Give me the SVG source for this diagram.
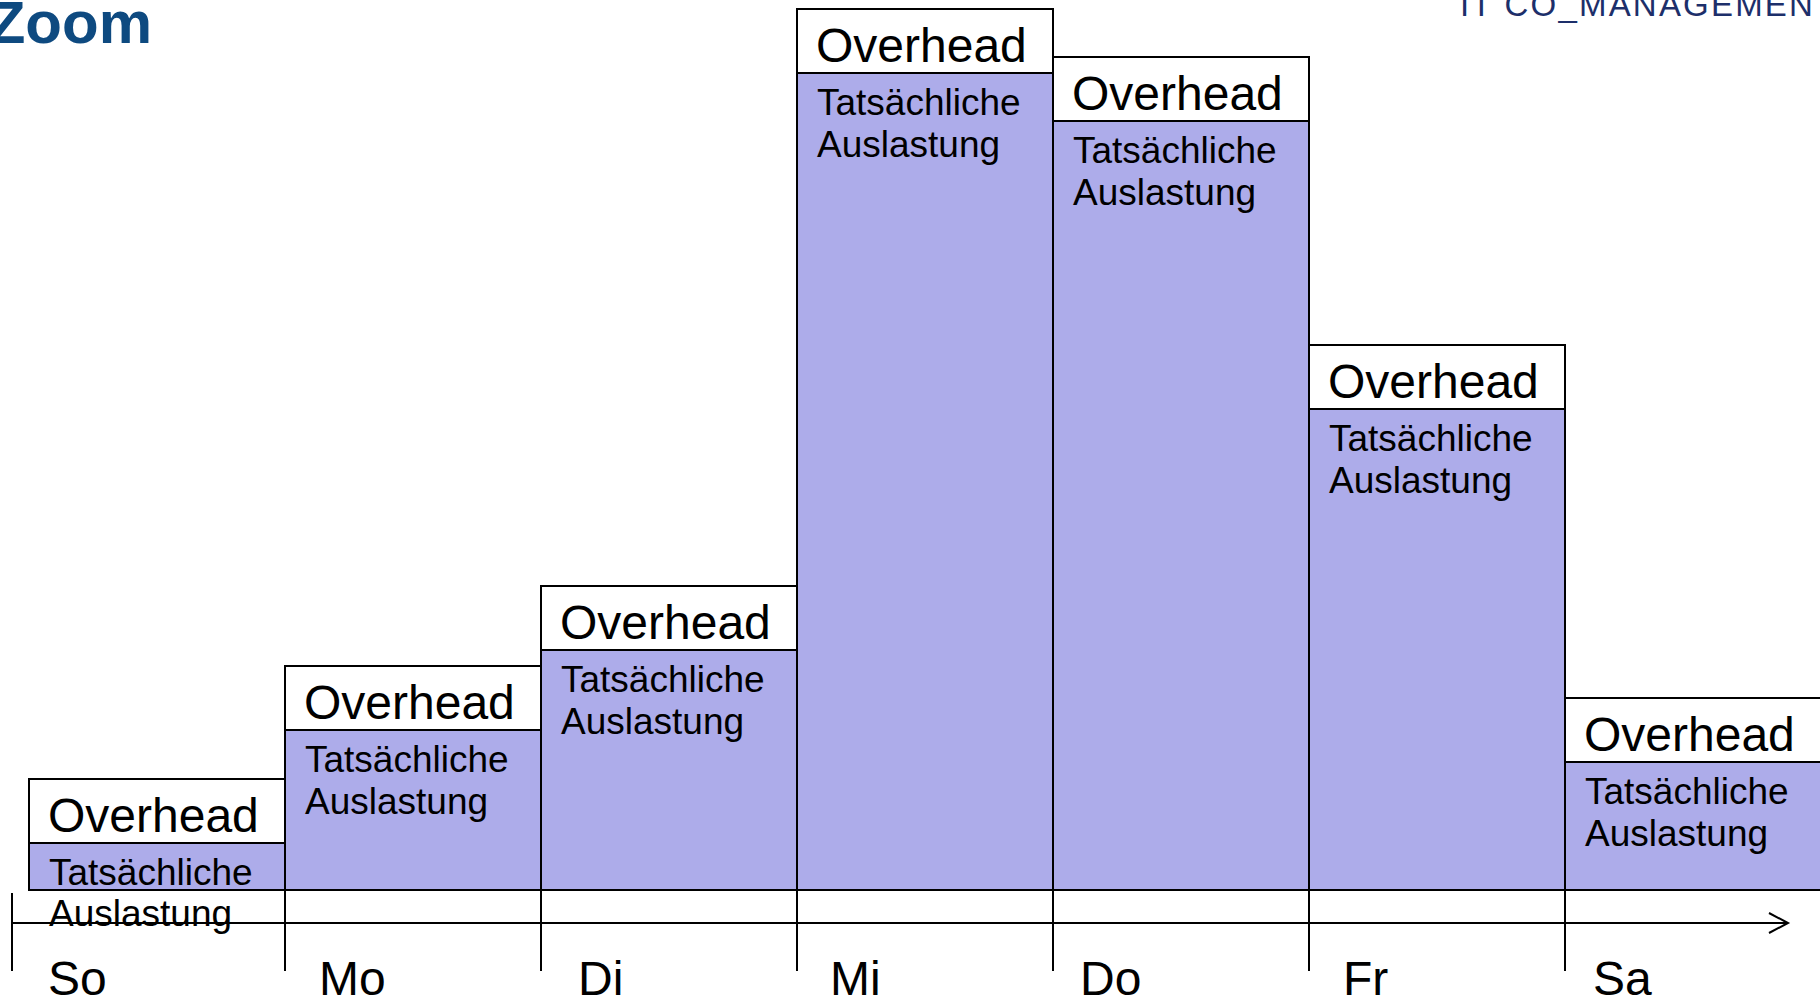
<svg xmlns="http://www.w3.org/2000/svg" width="1820" height="998" viewBox="0 0 1820 998">
<style>
.oh{fill:#ffffff;stroke:#000;stroke-width:2}
.ta{fill:#adacea;stroke:#000;stroke-width:2}
.t1{font-family:"Liberation Sans",Arial,sans-serif;font-size:48px;fill:#000}
.t2{font-family:"Liberation Sans",Arial,sans-serif;font-size:37px;fill:#000}
.day{font-family:"Liberation Sans",Arial,sans-serif;font-size:48px;fill:#000}
.ax{stroke:#000;stroke-width:2;fill:none}
</style>
<rect width="1820" height="998" fill="#fff"/>
<text x="152" y="43" text-anchor="end" font-family="'Liberation Sans',Arial,sans-serif" font-weight="bold" font-size="60" fill="#0e4a80">Zoom</text>
<text x="1460" y="16" font-family="'Liberation Sans',Arial,sans-serif" font-size="33" letter-spacing="2.2" fill="#1d2f6a">IT CO_MANAGEMEN</text>

<g id="connectors">
<line class="ax" x1="12" y1="923" x2="1788" y2="923"/>
<polyline class="ax" points="1769,913 1788,923 1769,933"/>
<line class="ax" x1="12" y1="893" x2="12" y2="971"/>
<line class="ax" x1="285" y1="890" x2="285" y2="971"/>
<line class="ax" x1="541" y1="890" x2="541" y2="971"/>
<line class="ax" x1="797" y1="890" x2="797" y2="971"/>
<line class="ax" x1="1053" y1="890" x2="1053" y2="971"/>
<line class="ax" x1="1309" y1="890" x2="1309" y2="971"/>
<line class="ax" x1="1565" y1="890" x2="1565" y2="971"/>
</g>

<g id="so">
<rect class="ta" x="29" y="843" width="256" height="47"/>
<rect class="oh" x="29" y="779" width="256" height="64"/>
<text class="t1" x="48" y="832">Overhead</text>
<text class="t2" x="49" y="885">Tatsächliche</text>
<text class="t2" x="49" y="926">Auslastung</text>
<text class="day" x="48" y="995">So</text>
</g>

<g id="mo">
<rect class="ta" x="285" y="730" width="256" height="160"/>
<rect class="oh" x="285" y="666" width="256" height="64"/>
<text class="t1" x="304" y="719">Overhead</text>
<text class="t2" x="305" y="772">Tatsächliche</text>
<text class="t2" x="305" y="814">Auslastung</text>
<text class="day" x="319" y="995">Mo</text>
</g>

<g id="di">
<rect class="ta" x="541" y="650" width="256" height="240"/>
<rect class="oh" x="541" y="586" width="256" height="64"/>
<text class="t1" x="560" y="639">Overhead</text>
<text class="t2" x="561" y="692">Tatsächliche</text>
<text class="t2" x="561" y="734">Auslastung</text>
<text class="day" x="578" y="995">Di</text>
</g>

<g id="mi">
<rect class="ta" x="797" y="73" width="256" height="817"/>
<rect class="oh" x="797" y="9" width="256" height="64"/>
<text class="t1" x="816" y="62">Overhead</text>
<text class="t2" x="817" y="115">Tatsächliche</text>
<text class="t2" x="817" y="157">Auslastung</text>
<text class="day" x="830" y="995">Mi</text>
</g>

<g id="do">
<rect class="ta" x="1053" y="121" width="256" height="769"/>
<rect class="oh" x="1053" y="57" width="256" height="64"/>
<text class="t1" x="1072" y="110">Overhead</text>
<text class="t2" x="1073" y="163">Tatsächliche</text>
<text class="t2" x="1073" y="205">Auslastung</text>
<text class="day" x="1080" y="995">Do</text>
</g>

<g id="fr">
<rect class="ta" x="1309" y="409" width="256" height="481"/>
<rect class="oh" x="1309" y="345" width="256" height="64"/>
<text class="t1" x="1328" y="398">Overhead</text>
<text class="t2" x="1329" y="451">Tatsächliche</text>
<text class="t2" x="1329" y="493">Auslastung</text>
<text class="day" x="1343" y="995">Fr</text>
</g>

<g id="sa">
<rect class="ta" x="1565" y="762" width="270" height="128"/>
<rect class="oh" x="1565" y="698" width="270" height="64"/>
<text class="t1" x="1584" y="751">Overhead</text>
<text class="t2" x="1585" y="804">Tatsächliche</text>
<text class="t2" x="1585" y="846">Auslastung</text>
<text class="day" x="1593" y="995">Sa</text>
</g>
</svg>
